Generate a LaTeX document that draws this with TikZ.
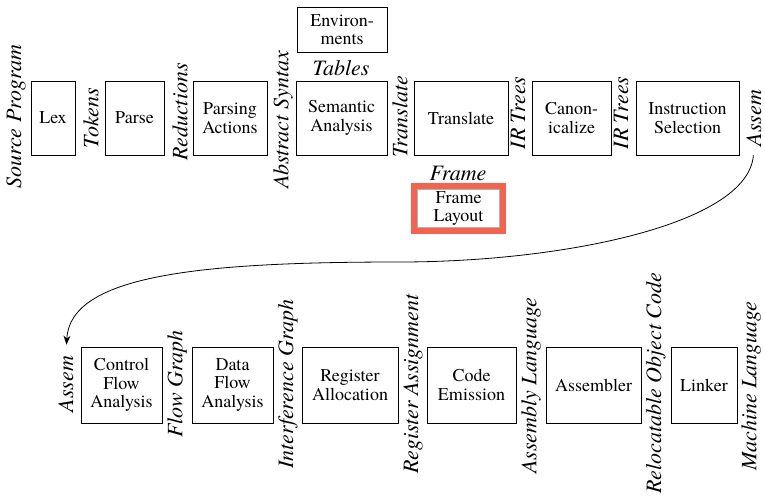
\documentclass[tikz,border=0pt]{standalone}
\usepackage{fontspec}
\setmainfont{texgyretermes}[Extension=.otf, UprightFont=*-regular, ItalicFont=*-italic, BoldFont=*-bold, BoldItalicFont=*-bolditalic]
\usetikzlibrary{arrows.meta,positioning}
\definecolor{framered}{HTML}{F26450}

\begin{document}
\begin{tikzpicture}[x=1pt, y=-1pt,
  phase/.style={draw, line width=0.8pt, inner sep=0pt, align=center, minimum height=74pt, font=\fontsize{18}{18.5}\selectfont},
  irlabel/.style={rotate=90, inner sep=1pt, font=\fontsize{22}{24}\selectfont\itshape},
  hilite/.style={phase, draw=framered, line width=6pt, fill=white,
    path picture={\draw[gray!60, line width=1pt] ([shift={(3.5pt,3.5pt)}]path picture bounding box.south west) rectangle ([shift={(-3.5pt,-3.5pt)}]path picture bounding box.north east);}},
  arr/.style={-{Stealth[length=9pt,width=7pt]}, line width=0.8pt}
]
  \useasboundingbox (0,0) rectangle (765,497);

  % front end
  \node[irlabel] (srcprog) at (16,117)  {Source Program};
  \node[phase, minimum width=44pt]  (lex)     at (53,118)    {Lex};
  \node[irlabel] (tokens)  at (91,118)  {Tokens};
  \node[phase, minimum width=59pt]  (parse)   at (134.5,118) {Parse};
  \node[irlabel] (reduct)  at (180,112) {Reductions};
  \node[phase, minimum width=74pt]  (parsact) at (230,118)   {Parsing\\Actions};
  \node[irlabel] (absyn)   at (283,120) {Abstract Syntax};
  \node[phase, minimum width=91pt]  (semant)  at (341.5,118) {Semantic\\Analysis};
  \node[phase, minimum width=90pt, minimum height=45pt] (env) at (342,29.5) {Environ-\\ments};
  \node[font=\fontsize{22}{24}\selectfont\itshape, inner sep=1pt] (tables) at (341,68) {Tables};
  \node[irlabel] (transl)  at (400,117) {Translate};
  \node[phase, minimum width=94pt]  (translate) at (461,118) {Translate};
  \node[font=\fontsize{22}{24}\selectfont\itshape, inner sep=1pt] (frame) at (458,173) {Frame};
  \node[hilite, minimum width=89pt, minimum height=45pt] (framelay) at (458.5,208.5) {Frame\\Layout};
  \node[irlabel] (irtreesA) at (518,113) {IR Trees};
  \node[phase, minimum width=79pt]  (canon)   at (571.5,118) {Canon-\\icalize};
  \node[irlabel] (irtreesB) at (621,113) {IR Trees};
  \node[phase, minimum width=103pt] (instsel) at (687.5,118) {Instruction\\Selection};
  \node[irlabel] (assemA)  at (754,118) {Assem};

  % back end
  \node[irlabel] (assemB)  at (66,384)  {Assem};
  \node[phase, minimum width=81pt, minimum height=76pt] (cfa)    at (121.5,385) {Control\\Flow\\Analysis};
  \node[irlabel] (flowgr)  at (177,384) {Flow Graph};
  \node[phase, minimum width=81pt, minimum height=76pt] (dfa)    at (232.5,385) {Data\\Flow\\Analysis};
  \node[irlabel] (interf)  at (288,384) {Interference Graph};
  \node[phase, minimum width=96pt, minimum height=76pt] (regall) at (350,385)   {Register\\Allocation};
  \node[irlabel] (regasgn) at (413,384) {Register Assignment};
  \node[phase, minimum width=89pt, minimum height=76pt] (codeem) at (471.5,385) {Code\\Emission};
  \node[irlabel] (asmlang) at (531,386) {Assembly Language};
  \node[phase, minimum width=95pt, minimum height=76pt] (assembler) at (593.5,385) {Assembler};
  \node[irlabel] (reloc)   at (656,383) {Relocatable Object Code};
  \node[phase, minimum width=66pt, minimum height=76pt] (linker) at (704,385)   {Linker};
  \node[irlabel] (machlang) at (751,386) {Machine Language};

  \draw[arr, shorten <=8pt, shorten >=10pt] (assemA.west)
    .. controls (748,225) and (560,262) .. (400,262)
    .. controls (200,262) and (70,275) .. (assemB.east);
\end{tikzpicture}
\end{document}
